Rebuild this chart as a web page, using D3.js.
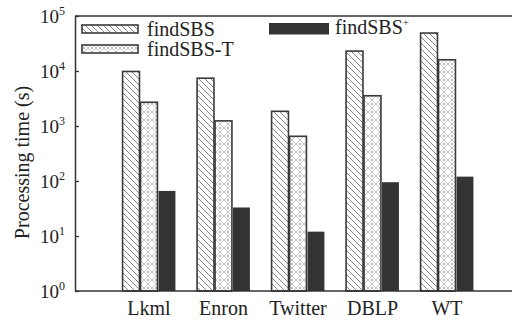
<!DOCTYPE html>
<html>
<head>
<meta charset="utf-8">
<script src="https://cdn.jsdelivr.net/npm/d3@7"></script>
<style>
  body { margin: 0; background: #fff; }
  svg { display: block; }
  text { font-family: "Liberation Serif", "DejaVu Serif", serif; fill: #222; }
</style>
</head>
<body>
<svg width="512" height="322"></svg>
<script>
// data
var datasets = ["Lkml", "Enron", "Twitter", "DBLP", "WT"];
var seriesNames = ["findSBS", "findSBS-T", "findSBS+"];
var findSBS = [9800, 7400, 1850, 23000, 49000];
var findSBST = [2700, 1240, 650, 3550, 16000];
var findSBSPlus = [66, 33, 12, 95, 120];
var yTicks = [1, 10, 100, 1000, 10000, 100000];
var yTickExp = ["0", "1", "2", "3", "4", "5"];

var svg = d3.select("svg");
// plot area edges (not named top/left: window.top is read-only)
var plotL = 75, plotR = 512, plotT = 16, plotB = 291;

var defs = svg.append("defs");
// diagonal hatch for findSBS
var p1 = defs.append("pattern").attr("id", "diag").attr("patternUnits", "userSpaceOnUse")
  .attr("width", 6).attr("height", 6);
p1.append("rect").attr("width", 6).attr("height", 6).attr("fill", "#fff");
p1.append("path").attr("d", "M-1,-1L7,7M-1,5L1,7M5,-1L7,1")
  .attr("stroke", "#777").attr("stroke-width", 0.9);
// cross hatch with dots for findSBS-T
var p2 = defs.append("pattern").attr("id", "cross").attr("patternUnits", "userSpaceOnUse")
  .attr("width", 8).attr("height", 8);
p2.append("rect").attr("width", 8).attr("height", 8).attr("fill", "#fff");
p2.append("path").attr("d", "M0,0L8,8M8,0L0,8")
  .attr("stroke", "#aaa").attr("stroke-width", 0.7);
p2.append("circle").attr("cx", 4).attr("cy", 0).attr("r", 0.9).attr("fill", "#999");
p2.append("circle").attr("cx", 4).attr("cy", 8).attr("r", 0.9).attr("fill", "#999");

var fills = ["url(#diag)", "url(#cross)", "#333"];

var x = d3.scalePoint().domain(datasets).range([149, 447]);
var xInner = d3.scaleBand().domain(seriesNames).range([-27.5, 27.5]).padding(0.06);
var y = d3.scaleLog().domain([1, 100000]).range([plotB, plotT]);

var allSeries = [findSBS, findSBST, findSBSPlus];

// bars
allSeries.forEach(function(vals, si) {
  svg.append("g").selectAll("rect").data(vals).enter().append("rect")
    .attr("x", function(d, i) { return x(datasets[i]) + xInner(seriesNames[si]); })
    .attr("y", function(d) { return y(d); })
    .attr("width", xInner.bandwidth())
    .attr("height", function(d) { return plotB - y(d); })
    .attr("fill", fills[si])
    .attr("stroke", si < 2 ? "#3a3a3a" : "none")
    .attr("stroke-width", 1.6);
});

// y axis, ticks pointing in
var yAxis = svg.append("g").attr("transform", "translate(" + plotL + ",0)")
  .call(d3.axisLeft(y).tickValues(yTicks).tickSizeInner(-4).tickSizeOuter(0).tickFormat(""));
yAxis.select(".domain").attr("stroke", "#333").attr("stroke-width", 1.5);
yAxis.selectAll(".tick line").attr("stroke", "#333").attr("stroke-width", 1.3);

// tick labels 10^n
yTicks.forEach(function(t, i) {
  var lab = svg.append("text").attr("x", 40).attr("y", y(t) + 7)
    .attr("font-size", 19);
  lab.append("tspan").text("10");
  lab.append("tspan").attr("dy", -8).attr("font-size", 12).text(yTickExp[i]);
});

// top and bottom frame lines
svg.append("line").attr("x1", plotL).attr("x2", plotR).attr("y1", plotT).attr("y2", plotT)
  .attr("stroke", "#333").attr("stroke-width", 1.5);
svg.append("line").attr("x1", plotL).attr("x2", plotR).attr("y1", plotB).attr("y2", plotB)
  .attr("stroke", "#333").attr("stroke-width", 1.5);

// x labels
svg.append("g").selectAll("text").data(datasets).enter().append("text")
  .attr("x", function(d) { return x(d); })
  .attr("y", 315)
  .attr("text-anchor", "middle")
  .attr("font-size", 20)
  .text(function(d) { return d; });

// y title
svg.append("text")
  .attr("transform", "translate(28.5,162.5) rotate(-90)")
  .attr("text-anchor", "middle")
  .attr("font-size", 20)
  .text("Processing time (s)");

// legend
var legend = [
  { x: 82, y: 25, h: 8, name: seriesNames[0], fill: fills[0], stroke: "#3a3a3a" },
  { x: 82, y: 45, h: 8, name: seriesNames[1], fill: fills[1], stroke: "#3a3a3a" },
  { x: 269, y: 23, h: 11.5, name: seriesNames[2], fill: fills[2], stroke: "none" }
];
legend.forEach(function(l) {
  svg.append("rect").attr("x", l.x).attr("y", l.y).attr("width", l.stroke === "none" ? 60 : 56)
    .attr("height", l.h).attr("fill", l.fill).attr("stroke", l.stroke).attr("stroke-width", 1.6);
  var t = svg.append("text").attr("x", l.x + (l.stroke === "none" ? 66 : 65)).attr("y", l.y + 11)
    .attr("font-size", 20);
  if (l.name === "findSBS+") {
    t.append("tspan").text("findSBS");
    t.append("tspan").attr("dy", -8).attr("font-size", 11).text("+");
  } else {
    t.text(l.name);
  }
});
</script>
</body>
</html>
